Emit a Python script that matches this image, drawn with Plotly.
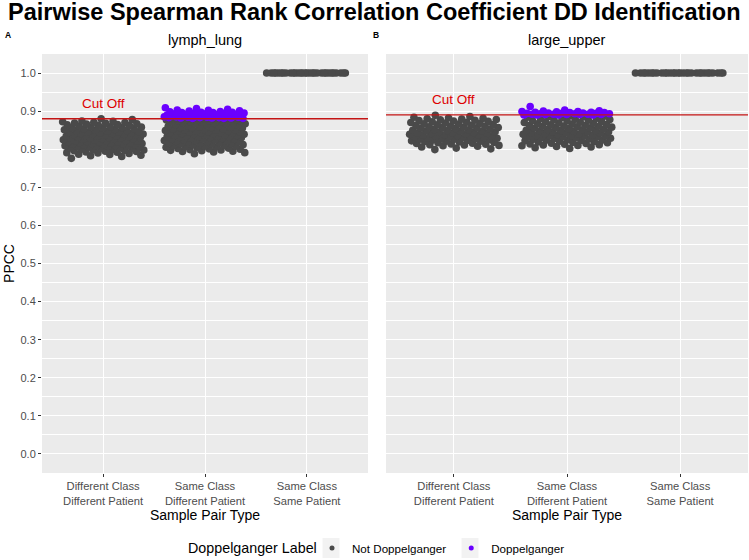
import plotly.graph_objects as go

categories = ["Different Class<br>Different Patient", "Same Class<br>Different Patient", "Same Class<br>Same Patient"]
y_ticks = [0.0, 0.1, 0.2, 0.3, 0.4, 0.5, 0.6, 0.7, 0.8, 0.9, 1.0]
y_tick_labels = ["0.0", "0.1", "0.2", "0.3", "0.4", "0.5", "0.6", "0.7", "0.8", "0.9", "1.0"]
panel_titles = ["lymph_lung", "large_upper"]
cutoffs = [0.88, 0.89]

# lymph_lung
ll_dcdp = [0.823, 0.801, 0.847, 0.812, 0.836, 0.795, 0.858, 0.829, 0.806, 0.842,
           0.817, 0.864, 0.789, 0.833, 0.851, 0.809, 0.826, 0.869, 0.798, 0.839,
           0.815, 0.856, 0.803, 0.831, 0.845, 0.792, 0.821, 0.861, 0.811, 0.837,
           0.784, 0.849, 0.819, 0.866, 0.807, 0.828, 0.853, 0.796, 0.841, 0.813,
           0.871, 0.825, 0.799, 0.834, 0.858, 0.816, 0.787, 0.844, 0.822, 0.863,
           0.804, 0.832, 0.849, 0.793, 0.827, 0.867, 0.810, 0.838, 0.818, 0.855,
           0.802, 0.830, 0.846, 0.791, 0.824, 0.872, 0.808, 0.840, 0.814, 0.859,
           0.797, 0.835, 0.852, 0.820, 0.786, 0.843, 0.865, 0.805, 0.829, 0.812,
           0.850, 0.794, 0.837, 0.862, 0.817, 0.800, 0.831, 0.868, 0.809, 0.845,
           0.878, 0.776, 0.874, 0.781, 0.880, 0.822, 0.857, 0.790, 0.834, 0.873,
           0.815, 0.841, 0.798, 0.826, 0.854, 0.807, 0.870, 0.783, 0.839, 0.819]
ll_scdp_not = [0.842, 0.815, 0.861, 0.828, 0.851, 0.803, 0.872, 0.836, 0.819, 0.857,
               0.833, 0.876, 0.797, 0.845, 0.866, 0.812, 0.839, 0.879, 0.807, 0.852,
               0.824, 0.869, 0.810, 0.843, 0.859, 0.801, 0.831, 0.874, 0.818, 0.848,
               0.794, 0.863, 0.826, 0.877, 0.813, 0.838, 0.867, 0.805, 0.854, 0.822,
               0.878, 0.835, 0.808, 0.846, 0.871, 0.825, 0.798, 0.856, 0.832, 0.875,
               0.811, 0.841, 0.862, 0.802, 0.837, 0.879, 0.816, 0.849, 0.829, 0.868,
               0.806, 0.840, 0.858, 0.800, 0.834, 0.876, 0.817, 0.853, 0.821, 0.873,
               0.804, 0.844, 0.865, 0.830, 0.796, 0.855, 0.877, 0.814, 0.839, 0.823,
               0.860, 0.799, 0.847, 0.870, 0.827, 0.809, 0.843, 0.878, 0.819, 0.850,
               0.791, 0.874, 0.788, 0.864, 0.833, 0.793, 0.857, 0.820, 0.845, 0.872,
               0.826, 0.851, 0.808, 0.837, 0.866, 0.815, 0.879, 0.795, 0.848, 0.831]
ll_scdp_dd = [0.885, 0.892, 0.881, 0.897, 0.888, 0.883, 0.894, 0.886, 0.900, 0.882,
              0.890, 0.896, 0.884, 0.889, 0.902, 0.887, 0.881, 0.893, 0.885, 0.899,
              0.883, 0.891, 0.905, 0.886, 0.882, 0.895, 0.888, 0.884, 0.898, 0.890,
              0.881, 0.893, 0.887, 0.903, 0.885, 0.889, 0.883, 0.896, 0.909, 0.886,
              0.892, 0.882, 0.897, 0.888, 0.884, 0.901, 0.890, 0.885, 0.894, 0.907]
ll_scsp = [1.0, 1.0, 1.0, 1.0, 1.0, 1.0, 1.0, 1.0, 1.0, 1.0,
           1.0, 1.0, 1.0, 1.0, 1.0, 1.0, 1.0, 1.0, 1.0, 1.0,
           1.0, 1.0, 1.0, 1.0, 1.0, 1.0, 1.0, 1.0, 1.0, 1.0]

# large_upper
lu_dcdp = [0.845, 0.826, 0.862, 0.837, 0.853, 0.816, 0.871, 0.841, 0.829, 0.858,
           0.834, 0.876, 0.812, 0.848, 0.866, 0.821, 0.843, 0.879, 0.818, 0.855,
           0.831, 0.869, 0.823, 0.846, 0.860, 0.814, 0.838, 0.874, 0.827, 0.851,
           0.809, 0.864, 0.833, 0.877, 0.822, 0.842, 0.867, 0.817, 0.856, 0.830,
           0.881, 0.839, 0.819, 0.849, 0.872, 0.832, 0.811, 0.857, 0.836, 0.875,
           0.820, 0.844, 0.863, 0.815, 0.840, 0.880, 0.825, 0.852, 0.835, 0.868,
           0.813, 0.847, 0.859, 0.808, 0.838, 0.878, 0.824, 0.854, 0.828, 0.873,
           0.806, 0.850, 0.865, 0.833, 0.810, 0.857, 0.882, 0.821, 0.843, 0.830,
           0.889, 0.801, 0.886, 0.799, 0.861, 0.803, 0.870, 0.826, 0.848, 0.884]
lu_scdp_not = [0.848, 0.829, 0.865, 0.839, 0.856, 0.818, 0.874, 0.844, 0.832, 0.861,
               0.836, 0.879, 0.814, 0.851, 0.869, 0.824, 0.846, 0.883, 0.821, 0.858,
               0.834, 0.872, 0.826, 0.849, 0.863, 0.816, 0.841, 0.877, 0.830, 0.854,
               0.811, 0.867, 0.835, 0.881, 0.825, 0.845, 0.870, 0.819, 0.859, 0.833,
               0.885, 0.842, 0.822, 0.852, 0.875, 0.835, 0.813, 0.860, 0.838, 0.878,
               0.823, 0.847, 0.866, 0.817, 0.843, 0.884, 0.828, 0.855, 0.837, 0.871,
               0.815, 0.850, 0.862, 0.810, 0.840, 0.887, 0.827, 0.857, 0.831, 0.876,
               0.807, 0.853, 0.868, 0.836, 0.812, 0.860, 0.886, 0.824, 0.846, 0.832,
               0.804, 0.873, 0.806, 0.864, 0.820, 0.880, 0.802, 0.849, 0.809, 0.888]
lu_scdp_dd = [0.893, 0.897, 0.891, 0.899, 0.894, 0.890, 0.896, 0.892, 0.901, 0.890,
              0.895, 0.898, 0.891, 0.893, 0.903, 0.894, 0.890, 0.897, 0.892, 0.900,
              0.891, 0.895, 0.912, 0.893, 0.890, 0.896, 0.894, 0.892, 0.899, 0.891]
lu_scsp = [1.0, 1.0, 1.0, 1.0, 1.0, 1.0, 1.0, 1.0, 1.0, 1.0,
           1.0, 1.0, 1.0, 1.0, 1.0, 1.0, 1.0, 1.0, 1.0, 1.0,
           1.0, 1.0, 1.0, 1.0, 1.0, 1.0, 1.0, 1.0, 1.0, 1.0]

GREY = "#4A4A4A"
PURPLE = "#6A00FF"
W, H = 749, 560
FONT = "Liberation Sans, Arial, sans-serif"


def px_x(p):
    return p / W


def px_y(p):
    return 1 - p / H


def jitter_points(cat_index, vals, seed):
    # deterministic low-discrepancy horizontal jitter (+/-0.4 category widths),
    # assigned by rank so the cloud is evenly filled
    ys = sorted(vals)
    xs = [cat_index + ((i * 0.6180339887 + seed) % 1.0) * 0.8 - 0.4 for i in range(len(ys))]
    return xs, ys


fig = go.Figure()

panels = [
    ("x", "y", [(1, ll_dcdp, GREY, 0.11), (2, ll_scdp_not, GREY, 0.37), (2, ll_scdp_dd, PURPLE, 0.73), (3, ll_scsp, GREY, 0.5)]),
    ("x2", "y2", [(1, lu_dcdp, GREY, 0.29), (2, lu_scdp_not, GREY, 0.53), (2, lu_scdp_dd, PURPLE, 0.17), (3, lu_scsp, GREY, 0.5)]),
]
for xa, ya, groups in panels:
    for cat, vals, col, seed in groups:
        name = "Doppelganger" if col == PURPLE else "Not Doppelganger"
        xs, ys = jitter_points(cat, vals, seed)
        fig.add_trace(go.Scatter(
            x=xs, y=ys, xaxis=xa, yaxis=ya,
            mode="markers", name=name, legendgroup=name, showlegend=False,
            marker=dict(color=col, size=7.6, line=dict(width=0)),
            hoverinfo="y",
        ))

# legend entries (small key dots like ggplot)
for name, col in [("Not Doppelganger", GREY), ("Doppelganger", PURPLE)]:
    fig.add_trace(go.Scatter(x=[None], y=[None], mode="markers", name=name, legendgroup=name,
                             showlegend=True, marker=dict(color=col, size=5)))

ydom = [px_y(473), px_y(54)]
x1dom = [px_x(42), px_x(368)]
x2dom = [px_x(386), px_x(748)]

axis_common = dict(
    range=[0.4, 3.6], tickvals=[1, 2, 3], ticktext=categories,
    showgrid=True, gridcolor="white", gridwidth=1.1, zeroline=False,
    ticks="outside", ticklen=3, tickcolor="#333333", tickwidth=1,
    tickfont=dict(family=FONT, size=11.2, color="#4D4D4D"),
    title=dict(text="Sample Pair Type", font=dict(family=FONT, size=14, color="black"), standoff=0),
    automargin=False, showline=False, fixedrange=True,
)
yaxis_common = dict(
    range=[-0.05, 1.05], tickvals=y_ticks, ticktext=y_tick_labels,
    showgrid=True, gridcolor="white", gridwidth=1.1, zeroline=False,
    minor=dict(tickvals=[0.05, 0.15, 0.25, 0.35, 0.45, 0.55, 0.65, 0.75, 0.85, 0.95], showgrid=True, gridcolor="white", gridwidth=0.5, ticks=""),
    automargin=False, showline=False, fixedrange=True,
    tickfont=dict(family=FONT, size=11, color="#4D4D4D"),
)

fig.update_layout(
    width=W, height=H,
    margin=dict(l=0, r=0, t=0, b=0, autoexpand=False),
    paper_bgcolor="white", plot_bgcolor="#EBEBEB",
    xaxis=dict(domain=x1dom, anchor="y", **axis_common),
    xaxis2=dict(domain=x2dom, anchor="y2", **axis_common),
    yaxis=dict(domain=ydom, anchor="x", ticks="outside", ticklen=3, tickcolor="#333333",
               title=dict(text="PPCC", font=dict(family=FONT, size=14, color="black"), standoff=2),
               **yaxis_common),
    yaxis2=dict(domain=ydom, anchor="x2", ticks="", showticklabels=False, **yaxis_common),
    showlegend=True,
    legend=dict(
        orientation="h", x=px_x(312), xanchor="left", y=px_y(548), yanchor="middle",
        font=dict(family=FONT, size=11.6, color="black"),
        bgcolor="rgba(0,0,0,0)", itemsizing="trace", itemwidth=30,
    ),
    font=dict(family=FONT),
)

# legend key backgrounds (ggplot style)
for cx in [331, 470]:
    fig.add_shape(type="rect", xref="paper", yref="paper", x0=px_x(cx - 8.5), x1=px_x(cx + 8.5),
                  y0=px_y(558), y1=px_y(538), fillcolor="#F2F2F2", line=dict(width=0), layer="below")
# legend title
fig.add_annotation(x=px_x(319), y=px_y(548), xref="paper", yref="paper", xanchor="right", yanchor="middle",
                   text="Doppelganger Label", showarrow=False,
                   font=dict(family=FONT, size=14.3, color="black"))

# Cut-off lines and labels
for i, (xa, ya) in enumerate([("x", "y"), ("x2", "y2")]):
    fig.add_shape(type="line", xref=f"{xa} domain", yref=ya, x0=0, x1=1,
                  y0=cutoffs[i], y1=cutoffs[i],
                  line=dict(color="#C41515", width=1.3))
    fig.add_annotation(x=1, y=cutoffs[i] + 0.04, xref=xa, yref=ya, text="Cut Off",
                       xanchor="center", yanchor="middle",
                       showarrow=False, font=dict(family=FONT, size=13.5, color="#DD0000"))

# Titles
fig.add_annotation(x=0.5, y=px_y(12), xref="paper", yref="paper", yanchor="middle", xanchor="center",
                   text="<b>Pairwise Spearman Rank Correlation Coefficient DD Identification</b>",
                   showarrow=False, font=dict(family=FONT, size=23.5, color="black"))
for txt, xc in zip(panel_titles, [sum(x1dom) / 2, sum(x2dom) / 2]):
    fig.add_annotation(x=xc, y=px_y(40), xref="paper", yref="paper", xanchor="center", yanchor="middle",
                       text=txt, showarrow=False,
                       font=dict(family=FONT, size=14.5, color="black"))
for txt, xp in [("A", 8), ("B", 376)]:
    fig.add_annotation(x=px_x(xp), y=px_y(35), xref="paper", yref="paper", xanchor="center", yanchor="middle",
                       text=f"<b>{txt}</b>", showarrow=False,
                       font=dict(family=FONT, size=8.5, color="black"))

fig.write_html("out.html", config={"displayModeBar": False},
               post_script="document.body.style.margin='0px';")
